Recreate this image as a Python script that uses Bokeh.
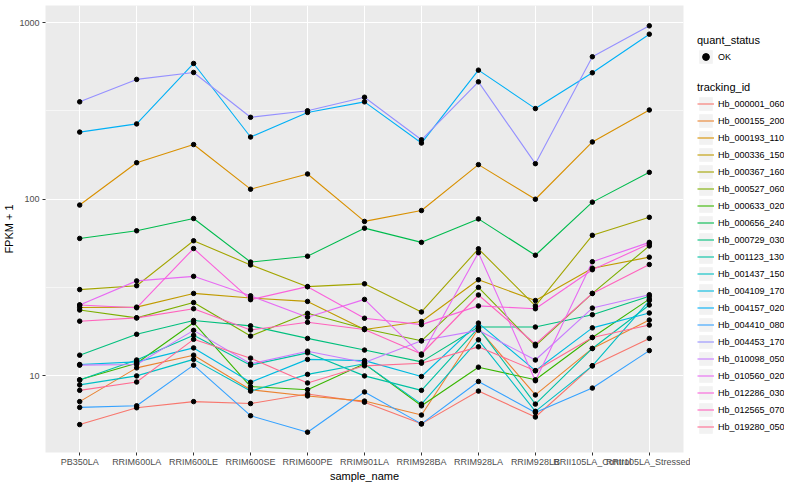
import numpy as np
from bokeh.plotting import figure
from bokeh.layouts import row
from bokeh.models import (FactorRange, Range1d, FixedTicker, BasicTickFormatter,
                          Legend, LegendItem)
from bokeh.embed import file_html
from bokeh.resources import INLINE

samples = ["PB350LA", "RRIM600LA", "RRIM600LE", "RRIM600SE", "RRIM600PE",
           "RRIM901LA", "RRIM928BA", "RRIM928LA", "RRIM928LB",
           "RRII105LA_Control", "RRII105LA_Stressed"]

tracking_ids = ["Hb_000001_060", "Hb_000155_200", "Hb_000193_110", "Hb_000336_150",
                "Hb_000367_160", "Hb_000527_060", "Hb_000633_020", "Hb_000656_240",
                "Hb_000729_030", "Hb_001123_130", "Hb_001437_150", "Hb_004109_170",
                "Hb_004157_020", "Hb_004410_080", "Hb_004453_170", "Hb_010098_050",
                "Hb_010560_020", "Hb_012286_030", "Hb_012565_070", "Hb_019280_050"]

colors = ["#F8766D", "#EA8331", "#D89000", "#C09B00", "#A3A500", "#7CAE00", "#39B600",
          "#00BB4E", "#00BF7D", "#00C1A3", "#00BFC4", "#00BAE0", "#00B0F6", "#35A2FF",
          "#9590FF", "#C77CFF", "#E76BF3", "#FA62DB", "#FF62BC", "#FF6C91"]

# FPKM + 1 per sample
Hb_000001_060 = [5.3, 6.6, 7.15, 6.97, 7.9, 7.1, 5.35, 8.2, 5.85, 11.4, 16.3]
Hb_000155_200 = [7.15, 11.1, 13.1, 8.35, 7.7, 7.2, 6.0, 18.5, 7.8, 14.3, 20.7]
Hb_000193_110 = [92.7, 161, 204, 114, 139, 74.9, 86.3, 157, 100, 211, 320]
Hb_000336_150 = [24.4, 24.5, 29.3, 27.6, 26.4, 18.3, 20.3, 35.0, 26.7, 40.7, 47.0]
Hb_000367_160 = [30.8, 32.4, 58.2, 42.5, 32.0, 33.2, 23.0, 52.4, 24.9, 62.5, 79.0]
Hb_000527_060 = [23.6, 21.3, 26.0, 16.8, 22.6, 18.5, 15.8, 31.7, 14.8, 29.3, 54.4]
Hb_000633_020 = [9.5, 11.8, 20.0, 8.7, 8.35, 11.7, 6.77, 11.2, 9.5, 16.5, 27.2]
Hb_000656_240 = [60.0, 66.3, 77.8, 44.1, 47.6, 68.6, 57.0, 77.4, 48.2, 96.3, 142]
Hb_000729_030 = [13.1, 17.2, 20.6, 19.2, 16.3, 14.0, 12.0, 18.9, 18.9, 22.2, 28.2]
Hb_001123_130 = [9.47, 12.3, 17.0, 11.5, 13.5, 10.0, 8.28, 18.7, 6.92, 14.3, 25.2]
Hb_001437_150 = [8.89, 10.0, 12.4, 8.2, 10.2, 11.7, 6.92, 16.0, 6.3, 11.4, 26.7]
Hb_004109_170 = [11.6, 12.0, 14.4, 9.2, 12.4, 12.2, 9.92, 19.9, 10.7, 18.7, 22.7]
Hb_004157_020 = [240, 267, 587, 225, 310, 356, 208, 538, 326, 520, 860]
Hb_004410_080 = [6.63, 6.77, 11.5, 5.95, 4.80, 8.11, 5.35, 9.3, 6.2, 8.53, 13.9]
Hb_004453_170 = [356, 477, 522, 291, 317, 378, 217, 462, 159, 641, 959]
Hb_010098_050 = [11.5, 11.6, 18.1, 11.7, 13.8, 11.9, 15.8, 18.1, 12.3, 24.2, 28.8]
Hb_010560_020 = [25.2, 34.5, 36.6, 28.4, 21.5, 27.1, 13.1, 49.8, 9.39, 44.3, 57.0]
Hb_012286_030 = [25.2, 24.3, 52.6, 27.0, 32.0, 21.2, 19.5, 24.9, 24.0, 39.9, 55.9]
Hb_012565_070 = [20.4, 21.3, 24.0, 18.2, 20.1, 18.3, 13.3, 28.7, 15.1, 29.3, 42.7]
Hb_019280_050 = [8.28, 9.23, 16.1, 12.6, 9.12, 11.4, 11.8, 14.6, 10.7, 16.5, 19.4]

series = [Hb_000001_060, Hb_000155_200, Hb_000193_110, Hb_000336_150, Hb_000367_160,
          Hb_000527_060, Hb_000633_020, Hb_000656_240, Hb_000729_030, Hb_001123_130,
          Hb_001437_150, Hb_004109_170, Hb_004157_020, Hb_004410_080, Hb_004453_170,
          Hb_010098_050, Hb_010560_020, Hb_012286_030, Hb_012565_070, Hb_019280_050]

quant_status = ["OK"]

FONT = "Liberation Sans"
H = 484

all_vals = np.concatenate([np.asarray(s, dtype=float) for s in series])
vmin, vmax = all_vals.min(), all_vals.max()
pad = (vmax / vmin) ** 0.05

# ---------------- main plot ----------------
p = figure(width=690, height=H,
           x_range=FactorRange(*samples, range_padding=0.1, range_padding_units="absolute"),
           y_axis_type="log", y_range=Range1d(vmin / pad, vmax * pad),
           output_backend="svg", toolbar_location=None,
           min_border_left=37, min_border_right=7, min_border_top=5, min_border_bottom=20)

p.background_fill_color = "#EBEBEB"
p.border_fill_color = "white"
p.outline_line_color = None

p.xgrid.grid_line_color = "white"
p.xgrid.grid_line_width = 1.1
p.ygrid.grid_line_color = "white"
p.ygrid.grid_line_width = 1.1
p.ygrid.minor_grid_line_color = "white"
p.ygrid.minor_grid_line_width = 0.55

p.yaxis.ticker = FixedTicker(ticks=[10, 100, 1000],
                             minor_ticks=[10 ** 0.5, 10 ** 1.5, 10 ** 2.5])
p.yaxis.formatter = BasicTickFormatter()

for ax in (p.xaxis, p.yaxis):
    ax.axis_line_color = None
    ax.major_tick_line_color = "#333333"
    ax.major_tick_out = 3
    ax.major_tick_in = 0
    ax.minor_tick_line_color = None
    ax.major_label_text_font = FONT
    ax.major_label_text_font_size = "9px"
    ax.major_label_text_color = "#4D4D4D"
    ax.major_label_standoff = 2
    ax.axis_label_text_font = FONT
    ax.axis_label_text_font_size = "11px"
    ax.axis_label_text_font_style = "normal"
    ax.axis_label_text_color = "black"
    ax.axis_label_standoff = 1

p.xaxis.major_label_standoff = 1
p.xaxis.axis_label_standoff = 0

p.xaxis.axis_label = "sample_name"
p.yaxis.axis_label = "FPKM + 1"

for vals, col in zip(series, colors):
    p.line(x=samples, y=vals, line_color=col, line_width=1.1)

px = [s for _ in series for s in samples]
py = [v for vals in series for v in vals]
p.scatter(x=px, y=py, size=4.5, color="black")

# ---------------- legend panel ----------------
# same data drawn again, but the y range lies above every value, so only legend keys show
lf = figure(width=94, height=H,
            x_range=FactorRange(*samples),
            y_range=Range1d(vmax * pad * 10, vmax * pad * 100),
            output_backend="svg", toolbar_location=None,
            x_axis_location=None, y_axis_location=None,
            min_border_left=0, min_border_right=0, min_border_top=0, min_border_bottom=0)
lf.outline_line_color = None
lf.xgrid.visible = False
lf.ygrid.visible = False
lf.background_fill_color = "white"

bg = lf.quad(left=[samples[0]], right=[samples[-1]], bottom=[vmin], top=[vmax],
             fill_color="#F2F2F2", line_color=None)
legend_lines = [lf.line(x=samples, y=vals, line_color=col, line_width=1.1)
                for vals, col in zip(series, colors)]
legend_pts = lf.scatter(x=px, y=py, size=4.5, color="black")


def style(leg):
    leg.glyph_width = 17
    leg.glyph_height = 17
    leg.label_height = 17
    leg.spacing = 0
    leg.padding = 0
    leg.margin = 0
    leg.label_standoff = 4
    leg.label_text_font = FONT
    leg.label_text_font_size = "9px"
    leg.label_text_color = "black"
    leg.title_text_font = FONT
    leg.title_text_font_size = "11px"
    leg.title_text_font_style = "normal"
    leg.title_text_color = "black"
    leg.title_standoff = 2
    leg.border_line_color = None
    leg.background_fill_alpha = 0
    leg.click_policy = "none"


leg1 = Legend(items=[LegendItem(label=quant_status[0], renderers=[bg, legend_pts])],
              title="quant_status", location=(7, 387))
style(leg1)
leg2 = Legend(items=[LegendItem(label=t, renderers=[bg, r])
                     for t, r in zip(tracking_ids, legend_lines)],
              title="tracking_id", location=(7, 17))
style(leg2)
lf.add_layout(leg1)
lf.add_layout(leg2)

layout = row(p, lf)
open("out.html", "w").write(file_html(layout, INLINE))
